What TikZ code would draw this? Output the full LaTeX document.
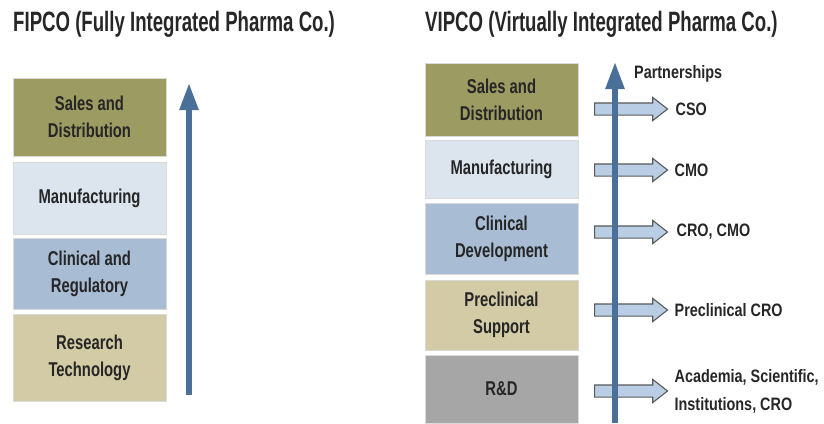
\documentclass[tikz,border=0pt]{standalone}
\usepackage{fontspec}
\setmainfont{Liberation Sans}
\newfontfamily\titlefont{Liberation Sans}[FakeStretch=0.665]
\newfontfamily\boxfont{Liberation Sans}[FakeStretch=0.74]
\newfontfamily\tagfont{Liberation Sans}[FakeStretch=0.80]
\usetikzlibrary{positioning,shapes.arrows,arrows.meta}

\definecolor{olive}{RGB}{156,155,98}
\definecolor{mist}{RGB}{220,228,237}
\definecolor{steel}{RGB}{168,188,212}
\definecolor{khaki}{RGB}{210,203,165}
\definecolor{slate}{RGB}{166,166,166}
\definecolor{spineblue}{RGB}{74,112,153}
\definecolor{pale}{RGB}{185,205,229}

\tikzset{
  stage/.style={minimum width=153pt, inner sep=0pt, align=center, draw=white!85!black, line width=0.6pt,
    text=black!85, font=\boxfont\bfseries\fontsize{20}{27}\selectfont},
  heading/.style={anchor=base west, inner sep=0pt, text=black!85, font=\titlefont\bfseries\fontsize{28}{32}\selectfont},
  spine/.style={line width=5.5pt, color=spineblue, -{Triangle[width=18pt,length=27pt]}},
  partner/.style={single arrow, draw=black!65, fill=pale, line width=1.1pt, inner xsep=0pt, inner ysep=5.5pt,
    minimum height=73pt, single arrow head extend=5.5pt,
    single arrow tip angle=76, anchor=tail},
  tag/.style={anchor=west, inner sep=0pt, align=left, text=black!85, font=\tagfont\bfseries\fontsize{18}{28}\selectfont}
}

\begin{document}
\begin{tikzpicture}[x=1pt,y=-1pt]
\useasboundingbox (0,0) rectangle (824,423);

% titles
\node[heading] (fipco) at (13,31) {FIPCO (Fully Integrated Pharma Co.)};
\node[heading] (vipco) at (425,31) {VIPCO (Virtually Integrated Pharma Co.)};

% left stack
\node[stage, fill=olive, minimum height=78pt] (fsales) at (89.5,117) {Sales and\\Distribution};
\node[stage, fill=mist, minimum height=72pt] (fmanu) at (89.5,198) {Manufacturing};
\node[stage, fill=steel, minimum height=71pt] (fclin) at (89.5,273.5) {Clinical and\\Regulatory};
\node[stage, fill=khaki, minimum height=87pt] (fres) at (89.5,357.5) {Research\\Technology};

% right stack
\node[stage, fill=olive, minimum height=73pt] (vsales) at (501.5,99.5) {Sales and\\Distribution};
\node[stage, fill=mist, minimum height=58pt] (vmanu) at (501.5,169) {Manufacturing};
\node[stage, fill=steel, minimum height=71pt] (vclin) at (501.5,238.5) {Clinical\\Development};
\node[stage, fill=khaki, minimum height=70pt] (vpre) at (501.5,315) {Preclinical\\Support};
\node[stage, fill=slate, minimum height=68pt] (vrd) at (501.5,389) {R\&D};

% block arrows out to partners
\node[partner] (pcso) at (594,109) {};
\node[partner] (pcmo) at (594,170) {};
\node[partner] (pclin) at (594,232) {};
\node[partner] (ppre) at (594,310) {};
\node[partner] (prd) at (594,391) {};

\node[tag, right=7pt of pcso.tip] (cso) {CSO};
\node[tag, right=6pt of pcmo.tip] (cmo) {CMO};
\node[tag, right=8pt of pclin.tip] (cro) {CRO, CMO};
\node[tag, right=6pt of ppre.tip] (pcro) {Preclinical CRO};
\node[tag, right=6pt of prd.tip] (acad) {Academia, Scientific,\\Institutions, CRO};

% vertical arrows
\coordinate (fbase) at (189,395);
\coordinate (ftop) at (189,83);
\draw[spine] (fbase) -- (ftop);

\coordinate (vbase) at (615,423);
\coordinate (vtop) at (615,62);
\draw[spine] (vbase) -- (vtop);
\node[tag] (ships) at (634,74) {Partnerships};

\end{tikzpicture}
\end{document}
